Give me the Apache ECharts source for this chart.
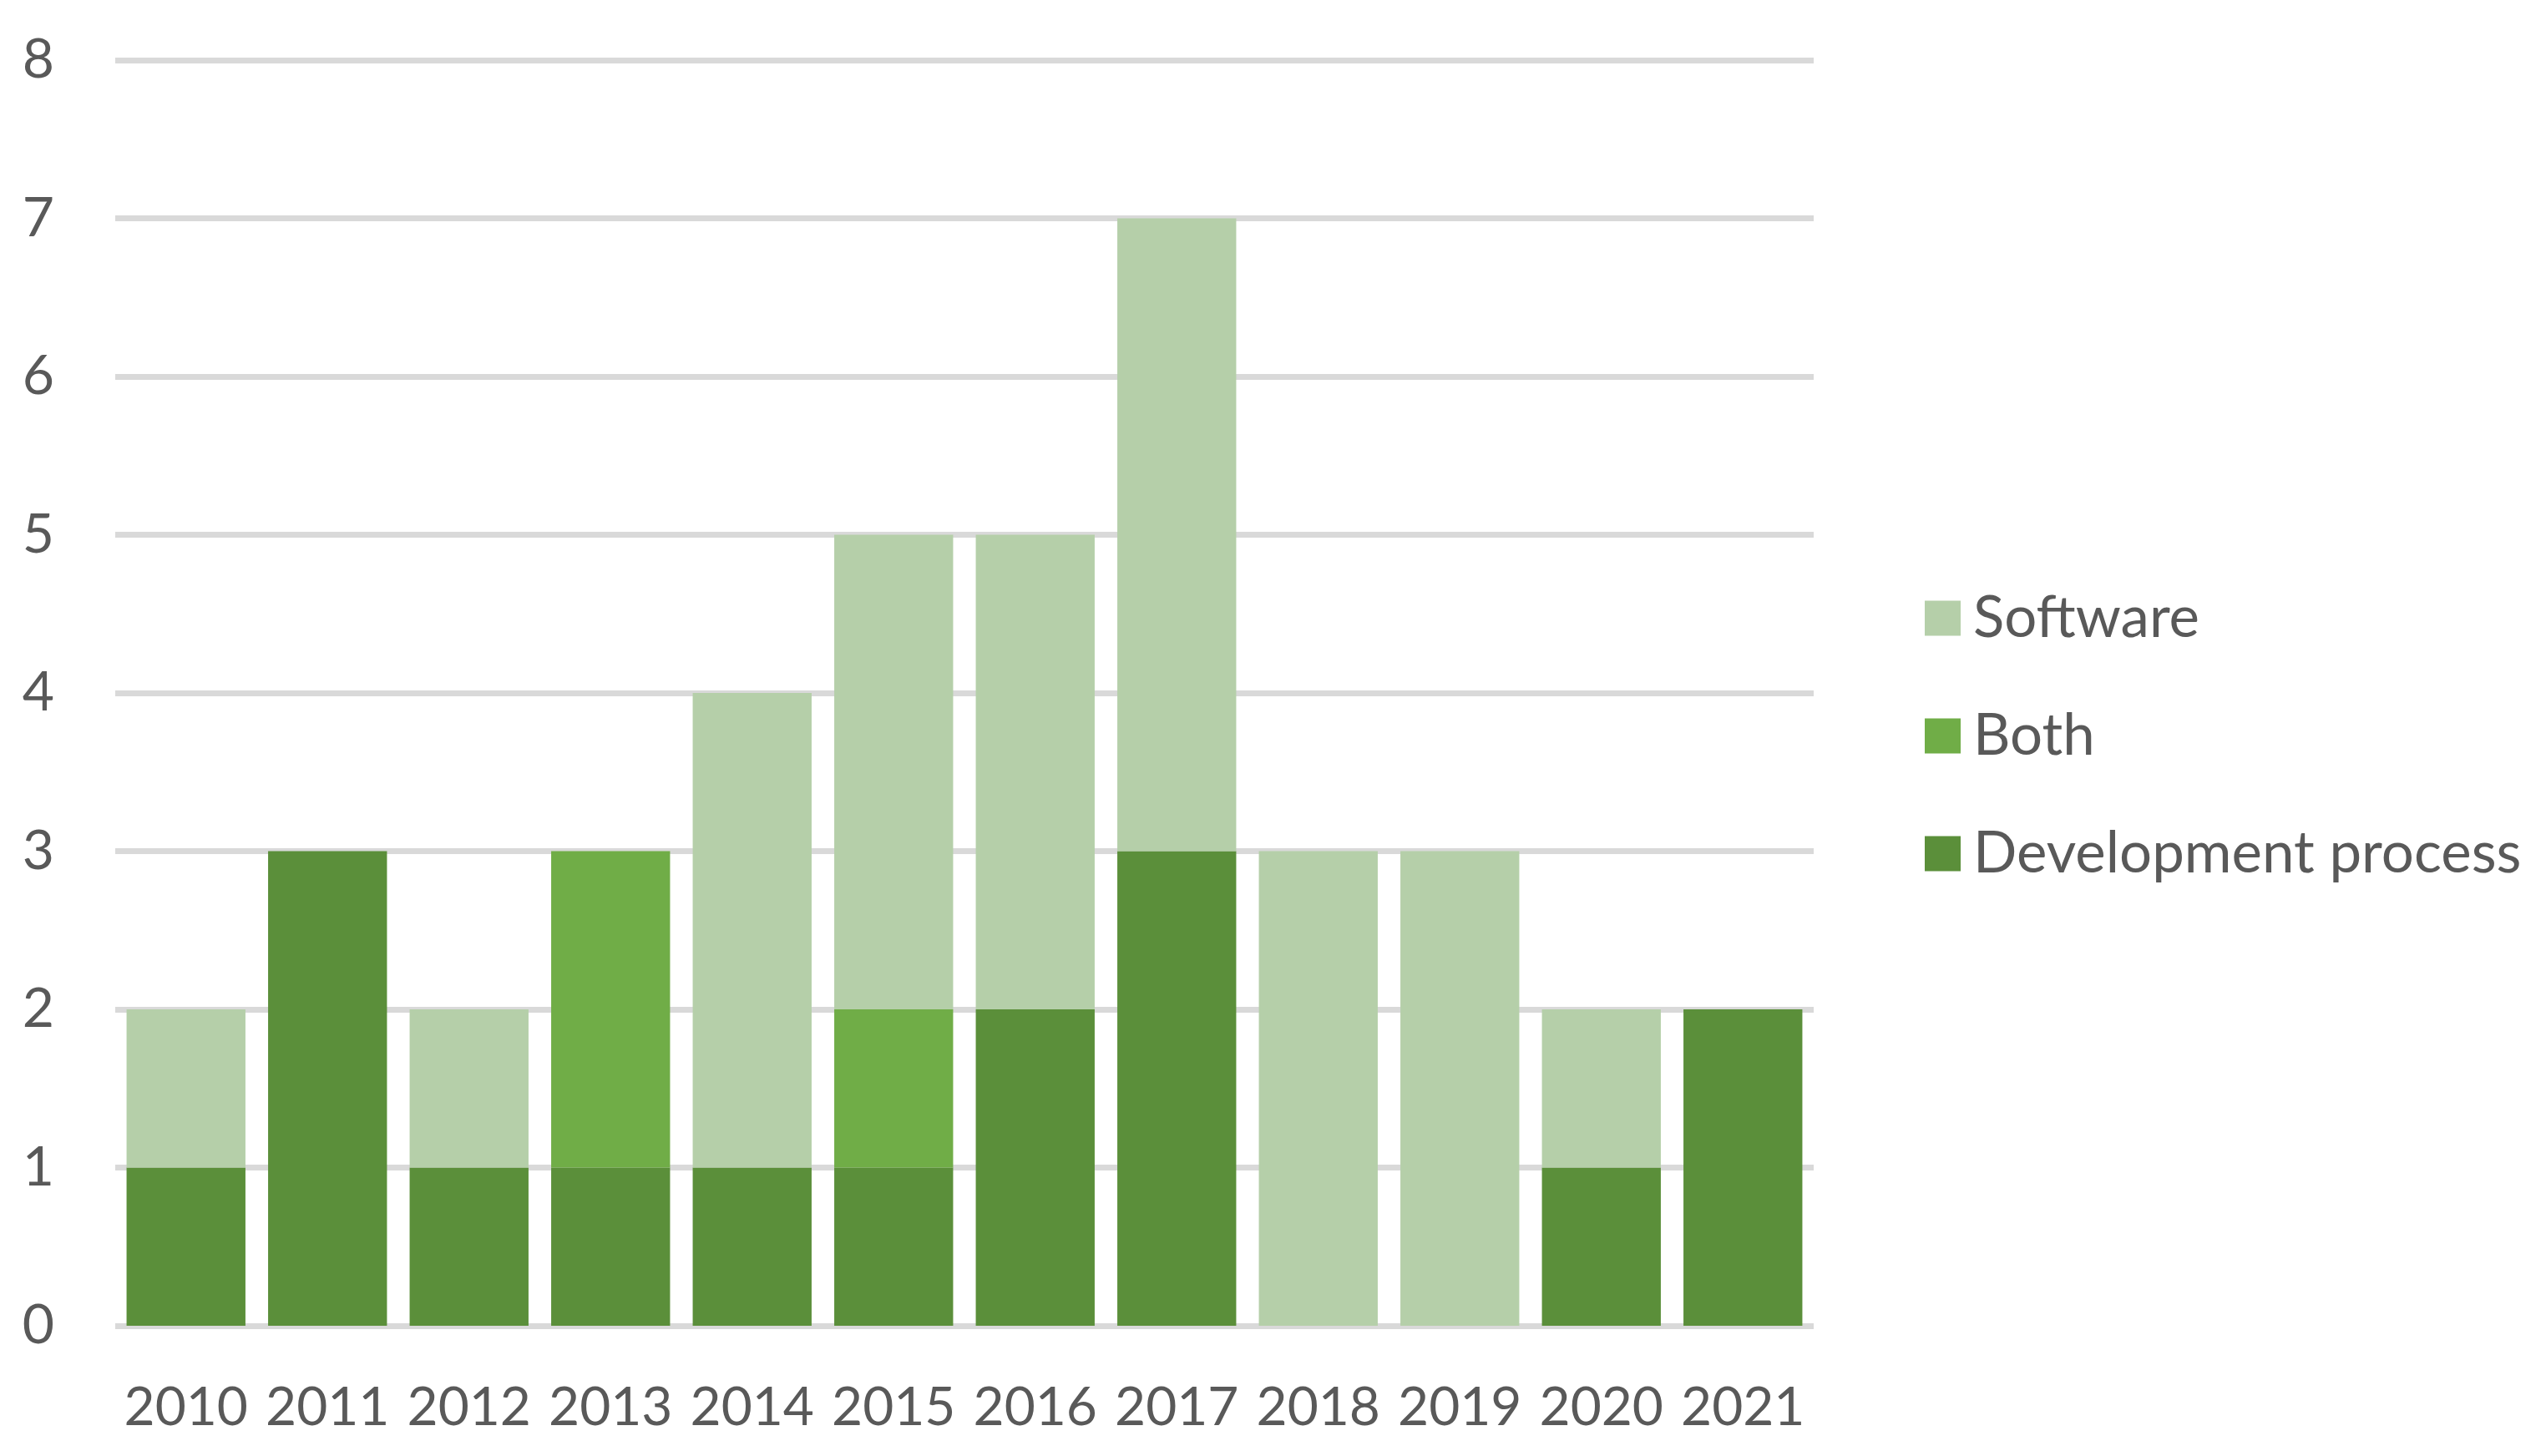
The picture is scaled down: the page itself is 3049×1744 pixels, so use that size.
<!DOCTYPE html>
<html>
<head>
<meta charset="utf-8">
<script src="https://cdn.jsdelivr.net/npm/echarts@6/dist/echarts.min.js"></script>
<style>html,body{margin:0;padding:0;background:#fff}#c{width:3049px;height:1744px}</style>
</head>
<body>
<div id="c"></div>
<script>
const categories = ['2010','2011','2012','2013','2014','2015','2016','2017','2018','2019','2020','2021'];
const developmentProcess = [1,3,1,1,1,1,2,3,0,0,1,2];
const both = [0,0,0,2,0,1,0,0,0,0,0,0];
const software = [1,0,1,0,3,3,3,4,3,3,1,0];
const yTicks = [0,1,2,3,4,5,6,7,8];

const font = 'Lato';
const txt = '#595959';
const chart = echarts.init(document.getElementById('c'), null, {renderer:'canvas'});
chart.setOption({
  animation:false,
  backgroundColor:'#ffffff',
  grid:{left:138,right:877,top:72,bottom:156},
  legend:{
    orient:'vertical', left:2300, top:701,
    data:['Software','Both','Development process'],
    itemWidth:43, itemHeight:42, itemGap:72,
    icon:'rect',
    textStyle:{fontFamily:font,fontSize:69,color:txt,lineHeight:64,padding:[0,0,0,10]},
  },
  xAxis:{
    type:'category', data:categories,
    axisLine:{show:false}, axisTick:{show:false},
    axisLabel:{fontFamily:font,fontSize:64,color:txt,margin:66,lineHeight:64,interval:0,hideOverlap:false}
  },
  yAxis:{
    type:'value', min:yTicks[0], max:yTicks[yTicks.length-1], interval:1,
    axisLine:{show:false}, axisTick:{show:false},
    splitLine:{lineStyle:{color:'#D9D9D9',width:7}},
    axisLabel:{fontFamily:font,fontSize:66,color:txt,margin:73}
  },
  series:[
    {name:'Development process',type:'bar',stack:'a',data:developmentProcess,itemStyle:{color:'#5B8F3A'},barCategoryGap:'16%'},
    {name:'Both',type:'bar',stack:'a',data:both,itemStyle:{color:'#70AD47'},barCategoryGap:'16%'},
    {name:'Software',type:'bar',stack:'a',data:software,itemStyle:{color:'#B5CFA9'},barCategoryGap:'16%'}
  ]
});
</script>
</body>
</html>
